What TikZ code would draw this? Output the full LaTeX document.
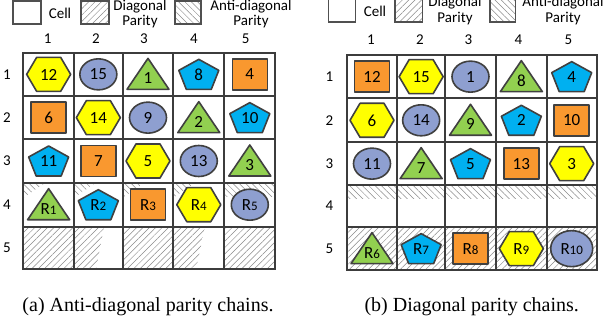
\documentclass[tikz,border=0pt]{standalone}
\usepackage{fontspec}
\setmainfont{Carlito}
\newfontfamily\capfont{Liberation Serif}
\usetikzlibrary{patterns.meta}
\definecolor{cyel}{HTML}{FFFF00}
\definecolor{cell}{HTML}{8E9FD0}
\definecolor{cgrn}{HTML}{92D050}
\definecolor{cblu}{HTML}{00B0F0}
\definecolor{corg}{HTML}{F9982F}
\definecolor{edgec}{HTML}{404040}
\definecolor{gridc}{HTML}{3C3C3C}
\definecolor{hatchc}{HTML}{8A8A8A}
\definecolor{legc}{HTML}{505050}
\newcommand\rlab[1]{R{\fontsize{13}{13}\selectfont #1}}
\begin{document}
\begin{tikzpicture}[x=1pt,y=-1pt,
  shp/.style={draw=edgec, line width=1.6pt, line join=round},
  lbl/.style={font=\fontsize{17}{17}\selectfont, text=black, inner sep=0pt},
  gridline/.style={draw=gridc, line width=1.8pt, line cap=rect},
  legbox/.style={draw=legc, line width=1.4pt, fill=white},
  legtxt/.style={font=\fontsize{15}{15.5}\selectfont, align=center, inner sep=0pt},
  axlbl/.style={font=\fontsize{15}{15}\selectfont, inner sep=0pt},
  capt/.style={font=\capfont\fontsize{20}{24}\selectfont, anchor=base, inner sep=0pt},
  diagh/.style={pattern={Lines[angle=45,distance=4.5pt,line width=0.5pt]}, pattern color=hatchc},
  antih/.style={pattern={Lines[angle=-45,distance=4.5pt,line width=0.5pt]}, pattern color=hatchc},
  pics/hexa/.style={code={\path[shp,fill=cyel] (-22,0)--(-12,-17)--(12,-17)--(22,0)--(12,17)--(-12,17)--cycle; \node[lbl] (-t) at (0,0.5) {#1};}},
  pics/ell/.style={code={\path[shp,fill=cell] (0,0) ellipse [x radius=18.5pt, y radius=15.5pt]; \node[lbl] (-t) at (0,0) {#1};}},
  pics/ellbig/.style={code={\path[shp,fill=cell] (0,0) ellipse [x radius=21pt, y radius=18pt]; \node[lbl] (-t) at (0,0) {#1};}},
  pics/tri/.style={code={\path[shp,fill=cgrn] (0,-16)--(21,15)--(-21,15)--cycle; \node[lbl] (-t) at (0,4) {#1};}},
  pics/pent/.style={code={\path[shp,fill=cblu] (0,-15)--(20,-4)--(12.5,15)--(-12.5,15)--(-20,-4)--cycle; \node[lbl] (-t) at (0,0) {#1};}},
  pics/rct/.style={code={\path[shp,fill=corg] (-17.5,-15.5) rectangle (17.5,15.5); \node[lbl] (-t) at (0,0) {#1};}},
]
\useasboundingbox (0,0) rectangle (608,326);
\fill[white] (0,0) rectangle (608,326);

% ---------------- legends ----------------
\path[legbox] (13,1) rectangle (41,24);
\node[legtxt] (lcell) at (60,13) {Cell};
\path[legbox] (81,1) rectangle (109,24);
\fill[diagh] (81,1) rectangle (109,24);
\draw[legc, line width=1.4pt] (81,1) rectangle (109,24);
\node[legtxt] (ldiag) at (140,14) {Diagonal\\Parity};
\path[legbox] (175,1) rectangle (201,24);
\fill[antih] (175,1) rectangle (201,24);
\draw[legc, line width=1.4pt] (175,1) rectangle (201,24);
\node[legtxt] (lanti) at (251,14) {Anti-diagonal\\Parity};

\path[legbox] (328.3,-1) rectangle (355.7,22);
\node[legtxt] (rcell) at (375,11) {Cell};
\path[legbox] (395,-1) rectangle (422.3,22);
\fill[diagh] (395,-1) rectangle (422.3,22);
\draw[legc, line width=1.4pt] (395,-1) rectangle (422.3,22);
\node[legtxt] (rdiag) at (455,10.5) {Diagonal\\Parity};
\path[legbox] (490,-1) rectangle (515.7,22);
\fill[antih] (490,-1) rectangle (515.7,22);
\draw[legc, line width=1.4pt] (490,-1) rectangle (515.7,22);
\node[legtxt] (ranti) at (563,10.5) {Anti-diagonal\\Parity};

% ---------------- axis labels ----------------
\foreach \x/\n in {47.7/1,96/2,144/3,194/4,245.7/5}
  \node[axlbl] (lc\n) at (\x,38.5) {\n};
\foreach \x/\n in {371/1,420/2,468.3/3,518.3/4,568.3/5}
  \node[axlbl] (rc\n) at (\x,39.5) {\n};
\foreach \y/\n in {74.35/1,117.65/2,161/3,204.7/4,248/5}
  \node[axlbl] (lr\n) at (7,\y) {\n};
\foreach \y/\n in {76.65/1,120.3/2,163.65/3,206.15/4,248.65/5}
  \node[axlbl] (rr\n) at (329.3,\y) {\n};

% ---------------- hatching (a) ----------------
\foreach \x in {23.3,74,122.7,173.3}
  \fill[antih] (\x,182.7) -- (\x+22,182.7) -- (\x,197.7) -- cycle;
\fill[antih] (224.3,182.7) rectangle (275.3,196);
\fill[diagh] (23.3,226.7) rectangle (74,269.3);
\fill[diagh] (74,226.7) -- (104,226.7) -- (96,269.3) -- (74,269.3) -- cycle;
\fill[diagh] (122.7,226.7) rectangle (173.3,269.3);
\fill[diagh] (173.3,226.7) -- (205,226.7) -- (196,269.3) -- (173.3,269.3) -- cycle;
\fill[diagh] (224.3,226.7) rectangle (275.3,269.3);

% ---------------- hatching (b) ----------------
\fill[antih] (346.7,185) rectangle (596.7,198);
\fill[diagh] (346.7,227.3) rectangle (596.7,270);

% ---------------- shapes (a) ----------------
\pic (a11) at (48.65,74.35) {hexa=12};
\pic (a12) at (98.35,74.35) {ell=15};
\pic (a13) at (148,74.35) {tri=1};
\pic (a14) at (198.8,74.35) {pent=8};
\pic (a15) at (249.8,74.35) {rct=4};
\pic (a21) at (48.65,117.65) {rct=6};
\pic (a22) at (98.35,117.65) {hexa=14};
\pic (a23) at (148,117.65) {ell=9};
\pic (a24) at (198.8,117.65) {tri=2};
\pic (a25) at (249.8,117.65) {pent=10};
\pic (a31) at (48.65,161) {pent=11};
\pic (a32) at (98.35,161) {rct=7};
\pic (a33) at (148,161) {hexa=5};
\pic (a34) at (198.8,161) {ell=13};
\pic (a35) at (249.8,161) {tri=3};
\pic (a41) at (48.65,204.7) {tri=\rlab{1}};
\pic (a42) at (98.35,204.7) {pent=\rlab{2}};
\pic (a43) at (148,204.7) {rct=\rlab{3}};
\pic (a44) at (198.8,204.7) {hexa=\rlab{4}};
\pic (a45) at (249.8,204.7) {ell=\rlab{5}};

% ---------------- shapes (b) ----------------
\pic (b11) at (372,76.65) {rct=12};
\pic (b12) at (421.15,76.65) {hexa=15};
\pic (b13) at (470.5,76.65) {ell=1};
\pic (b14) at (521.35,76.65) {tri=8};
\pic (b15) at (571.7,76.65) {pent=4};
\pic (b21) at (372,120.3) {hexa=6};
\pic (b22) at (421.15,120.3) {ell=14};
\pic (b23) at (470.5,120.3) {tri=9};
\pic (b24) at (521.35,120.3) {pent=2};
\pic (b25) at (571.7,120.3) {rct=10};
\pic (b31) at (372,163.65) {ell=11};
\pic (b32) at (421.15,163.65) {tri=7};
\pic (b33) at (470.5,163.65) {pent=5};
\pic (b34) at (521.35,163.65) {rct=13};
\pic (b35) at (571.7,163.65) {hexa=3};
\pic (b51) at (372,248.65) {tri=\rlab{6}};
\pic (b52) at (421.15,248.65) {pent=\rlab{7}};
\pic (b53) at (470.5,248.65) {rct=\rlab{8}};
\pic (b54) at (521.35,248.65) {hexa=\rlab{9}};
\pic (b55) at (571.7,248.65) {ellbig=\rlab{10}};

% ---------------- grids ----------------
\foreach \x in {23.3,74,122.7,173.3,224.3,275.3}
  \draw[gridline] (\x,52.7) -- (\x,269.3);
\foreach \y in {52.7,96,139.3,182.7,226.7,269.3}
  \draw[gridline] (23.3,\y) -- (275.3,\y);
\foreach \x in {346.7,397.3,445,496,546.7,596.7}
  \draw[gridline] (\x,55) -- (\x,270);
\foreach \y in {55,98.3,142.3,185,227.3,270}
  \draw[gridline] (346.7,\y) -- (596.7,\y);

% ---------------- captions ----------------
\node[capt] (capa) at (148,311.7) {(a) Anti-diagonal parity chains.};
\node[capt] (capb) at (471.7,311.7) {(b) Diagonal parity chains.};
\end{tikzpicture}
\end{document}
